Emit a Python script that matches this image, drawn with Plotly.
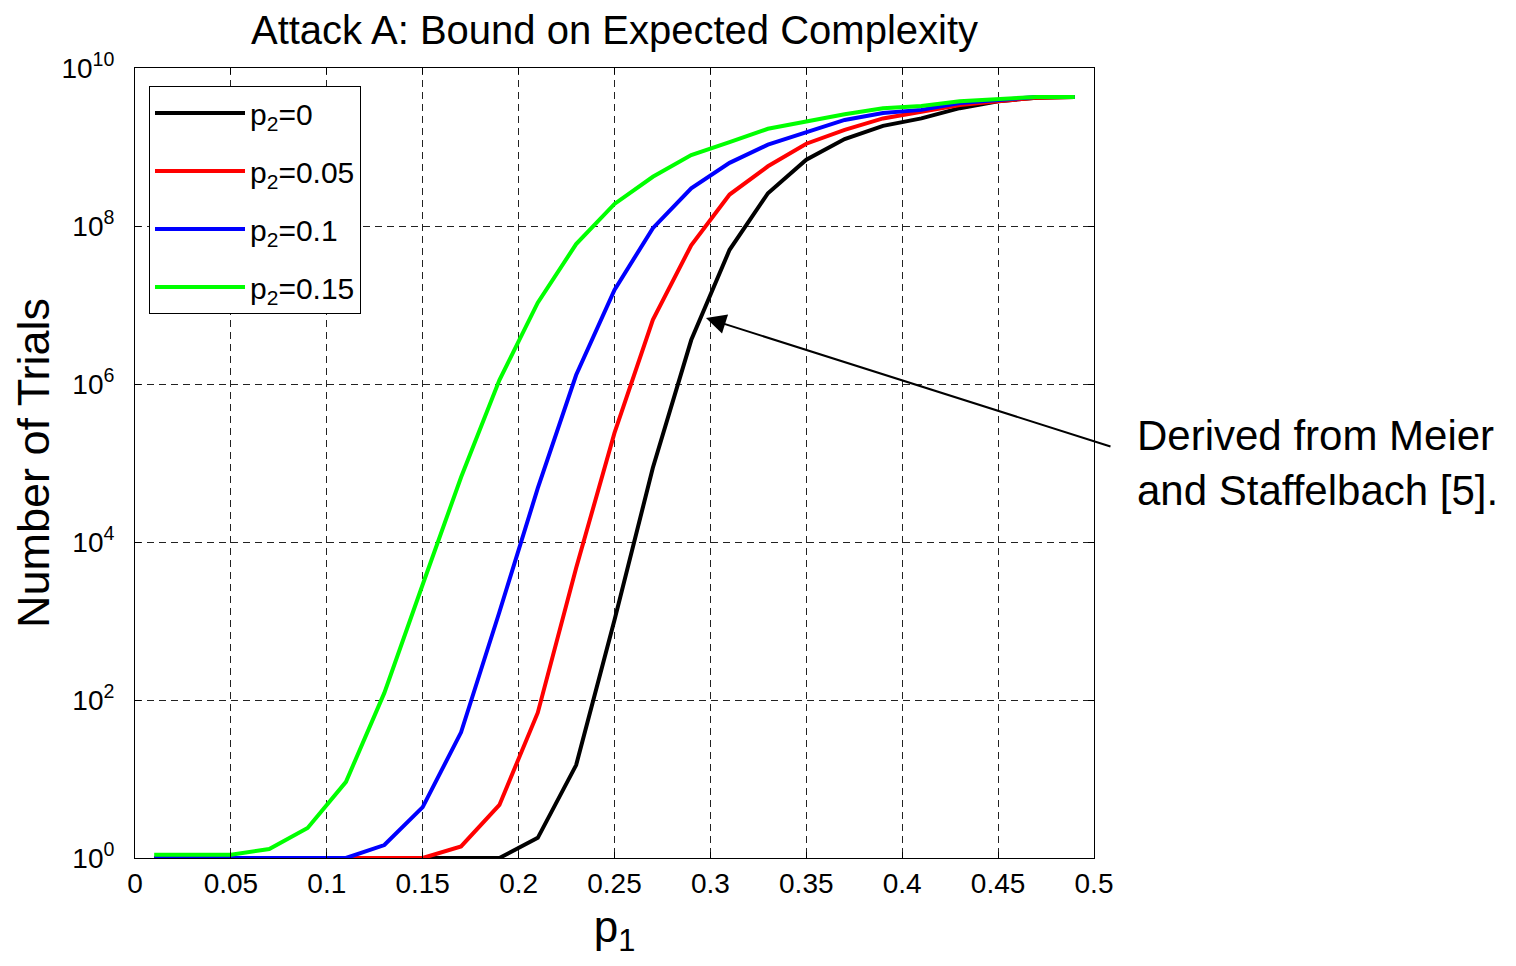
import plotly.graph_objects as go

p1 = [0.01, 0.03, 0.05, 0.07, 0.09, 0.11, 0.13, 0.15, 0.17, 0.19, 0.21, 0.23, 0.25,
      0.27, 0.29, 0.31, 0.33, 0.35, 0.37, 0.39, 0.41, 0.43, 0.45, 0.47, 0.49]

trials_p2_0 = [1, 1, 1, 1, 1, 1, 1, 1, 1, 1, 1.8, 15, 1.03e3,
               8.7e4, 3.6e6, 5.0e7, 2.6e8, 6.9e8, 1.26e9, 1.85e9, 2.3e9, 3.1e9, 3.8e9, 4.2e9, 4.3e9]
trials_p2_005 = [1, 1, 1, 1, 1, 1, 1, 1, 1.4, 4.7, 69, 4.7e3, 2.4e5,
                 6.5e6, 5.7e7, 2.5e8, 5.7e8, 1.1e9, 1.65e9, 2.3e9, 2.8e9, 3.4e9, 3.8e9, 4.2e9, 4.3e9]
trials_p2_01 = [1, 1, 1, 1, 1, 1, 1.46, 4.4, 39, 1.3e3, 4.8e4, 1.3e6, 1.55e7,
                9.4e7, 3.0e8, 6.3e8, 1.07e9, 1.55e9, 2.2e9, 2.7e9, 2.95e9, 3.6e9, 3.9e9, 4.3e9, 4.3e9]
trials_p2_015 = [1.1, 1.1, 1.1, 1.3, 2.4, 9.2, 123, 2.9e3, 6.6e4, 1.12e6, 1.07e7, 5.9e7, 1.9e8,
                 4.2e8, 7.9e8, 1.15e9, 1.7e9, 2.1e9, 2.6e9, 3.1e9, 3.3e9, 3.8e9, 4.1e9, 4.3e9, 4.3e9]

series_names = ["p<sub>2</sub>=0", "p<sub>2</sub>=0.05", "p<sub>2</sub>=0.1", "p<sub>2</sub>=0.15"]
series_values = [trials_p2_0, trials_p2_005, trials_p2_01, trials_p2_015]
series_colors = ["#000000", "#ff0000", "#0000ff", "#00ff00"]

x_tickvals = [0, 0.05, 0.1, 0.15, 0.2, 0.25, 0.3, 0.35, 0.4, 0.45, 0.5]
x_ticktext = ["0", "0.05", "0.1", "0.15", "0.2", "0.25", "0.3", "0.35", "0.4", "0.45", "0.5"]
y_tickvals = [1, 1e2, 1e4, 1e6, 1e8, 1e10]
y_ticktext = ["10<sup>0</sup>", "10<sup>2</sup>", "10<sup>4</sup>", "10<sup>6</sup>",
              "10<sup>8</sup>", "10<sup>10</sup>"]

FONT = "Liberation Sans, Arial, sans-serif"

W, H = 1500, 950
L, R_EDGE, T, B_EDGE = 127, 1086, 60, 850   # plot area in figure pixels

fig = go.Figure()
for i, (name, vals, col) in enumerate(zip(series_names, series_values, series_colors)):
    fig.add_trace(go.Scatter(
        x=p1, y=vals, mode="lines", name=name,
        line=dict(color=col, width=4),
        legendgroup=f"g{i}",
    ))

axis_common = dict(
    showline=True, linecolor="black", linewidth=1, mirror="ticks",
    ticks="inside", ticklen=6, tickcolor="black",
    showgrid=True, gridcolor="#222222", gridwidth=1, griddash="7px,5px",
    zeroline=False,
    tickfont=dict(family=FONT, size=28, color="black"),
)

fig.update_layout(
    width=W, height=H,
    margin=dict(l=L, r=W - R_EDGE, t=T, b=H - B_EDGE, autoexpand=False),
    paper_bgcolor="white", plot_bgcolor="white",
    font=dict(family=FONT, color="black"),
    title=dict(text="Attack A: Bound on Expected Complexity",
               x=(L + R_EDGE) / 2 / W, xanchor="center",
               y=1 - 22 / H, yanchor="middle", yref="container",
               font=dict(family=FONT, size=40, color="black")),
    xaxis=dict(range=[0, 0.5], tickvals=x_tickvals, ticktext=x_ticktext,
               title=dict(text="p<sub>1</sub>", font=dict(family=FONT, size=44), standoff=20),
               **axis_common),
    yaxis=dict(type="log", range=[0, 10], tickvals=y_tickvals, ticktext=y_ticktext,
               ticklabelstandoff=14,
               title=dict(text="Number of Trials", font=dict(family=FONT, size=45), standoff=16),
               **axis_common),
    legend=dict(x=(141 - L) / (R_EDGE - L), y=(B_EDGE - 78) / (B_EDGE - T),
                xanchor="left", yanchor="top",
                bgcolor="white", bordercolor="black", borderwidth=1,
                font=dict(family=FONT, size=30, color="black"),
                tracegroupgap=16, itemwidth=90),
    showlegend=True,
)

# arrow pointing at the black curve
fig.add_annotation(
    x=0.2977, y=6.835, xref="x", yref="y",
    text="", showarrow=True, arrowhead=2, arrowsize=2, arrowwidth=2, arrowcolor="black",
    ax=406, ay=129,
)
fig.add_annotation(
    x=(1127 - L) / (R_EDGE - L), y=0.5, xref="paper", yref="paper",
    xanchor="left", yanchor="middle", align="left",
    text="Derived from Meier<br>and Staffelbach [5].",
    showarrow=False, font=dict(family=FONT, size=42, color="black"),
)

fig.write_html("out.html")
